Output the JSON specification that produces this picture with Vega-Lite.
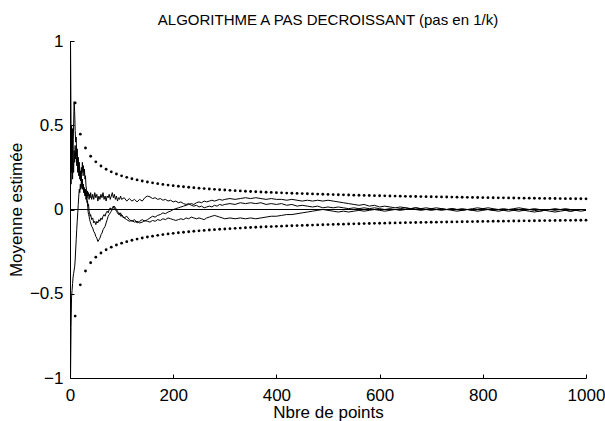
{
"$schema":"https://vega.github.io/schema/vega-lite/v6.json",
"width":516,"height":337,
"autosize":{"type":"none"},
"padding":{"left":70,"top":41,"right":19,"bottom":43},
"background":"white",
"title":{"text":"ALGORITHME A PAS DECROISSANT (pas en 1/k)","font":"Liberation Sans","fontSize":15,"fontWeight":"normal","color":"black","anchor":"middle","frame":"group","baseline":"alphabetic","offset":-8},
"config":{"view":{"stroke":null},"font":"Liberation Sans",
"axis":{"labelFont":"Liberation Sans","labelFontSize":17,"labelColor":"black","titleFont":"Liberation Sans","titleFontSize":17,"titleFontWeight":"normal","titleColor":"black","domainColor":"black","domainWidth":1,"tickColor":"black","tickWidth":1,"tickSize":-4,"grid":false,"labelFlush":false,"labelOverlap":false},
"axisX":{"labelPadding":13,"titlePadding":1},
"axisY":{"labelPadding":11,"titlePadding":4}},
"datasets":{
"U":[{"k":10,"v":0.6325},{"k":20,"v":0.4472},{"k":30,"v":0.3651},{"k":40,"v":0.3162},{"k":50,"v":0.2828},{"k":60,"v":0.2582},{"k":70,"v":0.239},{"k":80,"v":0.2236},{"k":90,"v":0.2108},{"k":100,"v":0.2},{"k":110,"v":0.1907},{"k":120,"v":0.1826},{"k":130,"v":0.1754},{"k":140,"v":0.169},{"k":150,"v":0.1633},{"k":160,"v":0.1581},{"k":170,"v":0.1534},{"k":180,"v":0.1491},{"k":190,"v":0.1451},{"k":200,"v":0.1414},{"k":210,"v":0.138},{"k":220,"v":0.1348},{"k":230,"v":0.1319},{"k":240,"v":0.1291},{"k":250,"v":0.1265},{"k":260,"v":0.124},{"k":270,"v":0.1217},{"k":280,"v":0.1195},{"k":290,"v":0.1174},{"k":300,"v":0.1155},{"k":310,"v":0.1136},{"k":320,"v":0.1118},{"k":330,"v":0.1101},{"k":340,"v":0.1085},{"k":350,"v":0.1069},{"k":360,"v":0.1054},{"k":370,"v":0.104},{"k":380,"v":0.1026},{"k":390,"v":0.1013},{"k":400,"v":0.1},{"k":410,"v":0.0988},{"k":420,"v":0.0976},{"k":430,"v":0.0965},{"k":440,"v":0.0953},{"k":450,"v":0.0943},{"k":460,"v":0.0933},{"k":470,"v":0.0923},{"k":480,"v":0.0913},{"k":490,"v":0.0904},{"k":500,"v":0.0894},{"k":510,"v":0.0886},{"k":520,"v":0.0877},{"k":530,"v":0.0869},{"k":540,"v":0.0861},{"k":550,"v":0.0853},{"k":560,"v":0.0845},{"k":570,"v":0.0838},{"k":580,"v":0.083},{"k":590,"v":0.0823},{"k":600,"v":0.0816},{"k":610,"v":0.081},{"k":620,"v":0.0803},{"k":630,"v":0.0797},{"k":640,"v":0.0791},{"k":650,"v":0.0784},{"k":660,"v":0.0778},{"k":670,"v":0.0773},{"k":680,"v":0.0767},{"k":690,"v":0.0761},{"k":700,"v":0.0756},{"k":710,"v":0.0751},{"k":720,"v":0.0745},{"k":730,"v":0.074},{"k":740,"v":0.0735},{"k":750,"v":0.073},{"k":760,"v":0.0725},{"k":770,"v":0.0721},{"k":780,"v":0.0716},{"k":790,"v":0.0712},{"k":800,"v":0.0707},{"k":810,"v":0.0703},{"k":820,"v":0.0698},{"k":830,"v":0.0694},{"k":840,"v":0.069},{"k":850,"v":0.0686},{"k":860,"v":0.0682},{"k":870,"v":0.0678},{"k":880,"v":0.0674},{"k":890,"v":0.067},{"k":900,"v":0.0667},{"k":910,"v":0.0663},{"k":920,"v":0.0659},{"k":930,"v":0.0656},{"k":940,"v":0.0652},{"k":950,"v":0.0649},{"k":960,"v":0.0645},{"k":970,"v":0.0642},{"k":980,"v":0.0639},{"k":990,"v":0.0636},{"k":1000,"v":0.0632}],
"L":[{"k":10,"v":-0.6325},{"k":20,"v":-0.4472},{"k":30,"v":-0.3651},{"k":40,"v":-0.3162},{"k":50,"v":-0.2828},{"k":60,"v":-0.2582},{"k":70,"v":-0.239},{"k":80,"v":-0.2236},{"k":90,"v":-0.2108},{"k":100,"v":-0.2},{"k":110,"v":-0.1907},{"k":120,"v":-0.1826},{"k":130,"v":-0.1754},{"k":140,"v":-0.169},{"k":150,"v":-0.1633},{"k":160,"v":-0.1581},{"k":170,"v":-0.1534},{"k":180,"v":-0.1491},{"k":190,"v":-0.1451},{"k":200,"v":-0.1414},{"k":210,"v":-0.138},{"k":220,"v":-0.1348},{"k":230,"v":-0.1319},{"k":240,"v":-0.1291},{"k":250,"v":-0.1265},{"k":260,"v":-0.124},{"k":270,"v":-0.1217},{"k":280,"v":-0.1195},{"k":290,"v":-0.1174},{"k":300,"v":-0.1155},{"k":310,"v":-0.1136},{"k":320,"v":-0.1118},{"k":330,"v":-0.1101},{"k":340,"v":-0.1085},{"k":350,"v":-0.1069},{"k":360,"v":-0.1054},{"k":370,"v":-0.104},{"k":380,"v":-0.1026},{"k":390,"v":-0.1013},{"k":400,"v":-0.1},{"k":410,"v":-0.0988},{"k":420,"v":-0.0976},{"k":430,"v":-0.0965},{"k":440,"v":-0.0953},{"k":450,"v":-0.0943},{"k":460,"v":-0.0933},{"k":470,"v":-0.0923},{"k":480,"v":-0.0913},{"k":490,"v":-0.0904},{"k":500,"v":-0.0894},{"k":510,"v":-0.0886},{"k":520,"v":-0.0877},{"k":530,"v":-0.0869},{"k":540,"v":-0.0861},{"k":550,"v":-0.0853},{"k":560,"v":-0.0845},{"k":570,"v":-0.0838},{"k":580,"v":-0.083},{"k":590,"v":-0.0823},{"k":600,"v":-0.0816},{"k":610,"v":-0.081},{"k":620,"v":-0.0803},{"k":630,"v":-0.0797},{"k":640,"v":-0.0791},{"k":650,"v":-0.0784},{"k":660,"v":-0.0778},{"k":670,"v":-0.0773},{"k":680,"v":-0.0767},{"k":690,"v":-0.0761},{"k":700,"v":-0.0756},{"k":710,"v":-0.0751},{"k":720,"v":-0.0745},{"k":730,"v":-0.074},{"k":740,"v":-0.0735},{"k":750,"v":-0.073},{"k":760,"v":-0.0725},{"k":770,"v":-0.0721},{"k":780,"v":-0.0716},{"k":790,"v":-0.0712},{"k":800,"v":-0.0707},{"k":810,"v":-0.0703},{"k":820,"v":-0.0698},{"k":830,"v":-0.0694},{"k":840,"v":-0.069},{"k":850,"v":-0.0686},{"k":860,"v":-0.0682},{"k":870,"v":-0.0678},{"k":880,"v":-0.0674},{"k":890,"v":-0.067},{"k":900,"v":-0.0667},{"k":910,"v":-0.0663},{"k":920,"v":-0.0659},{"k":930,"v":-0.0656},{"k":940,"v":-0.0652},{"k":950,"v":-0.0649},{"k":960,"v":-0.0645},{"k":970,"v":-0.0642},{"k":980,"v":-0.0639},{"k":990,"v":-0.0636},{"k":1000,"v":-0.0632}],
"A":[{"k":1,"v":1},{"k":2,"v":0.5},{"k":3,"v":0.22},{"k":4,"v":0.45},{"k":5,"v":0.18},{"k":6,"v":0.38},{"k":7,"v":0.5},{"k":8,"v":0.64},{"k":9,"v":0.58},{"k":10,"v":0.47},{"k":11,"v":0.4},{"k":12,"v":0.43},{"k":13,"v":0.32},{"k":14,"v":0.36},{"k":15,"v":0.27},{"k":16,"v":0.31},{"k":17,"v":0.24},{"k":18,"v":0.28},{"k":19,"v":0.2},{"k":20,"v":0.23},{"k":21,"v":0.17},{"k":22,"v":0.2},{"k":23,"v":0.15},{"k":24,"v":0.18},{"k":25,"v":0.12},{"k":26,"v":0.15},{"k":27,"v":0.1},{"k":28,"v":0.13},{"k":29,"v":0.09},{"k":30,"v":0.12},{"k":31,"v":0.08},{"k":32,"v":0.1},{"k":33,"v":0.07},{"k":34,"v":0.11},{"k":35,"v":0.08},{"k":36,"v":0.1},{"k":37,"v":0.06},{"k":38,"v":0.09},{"k":39,"v":0.07},{"k":40,"v":0.1},{"k":42,"v":0.06},{"k":44,"v":0.09},{"k":46,"v":0.06},{"k":48,"v":0.1},{"k":50,"v":0.07},{"k":52,"v":0.09},{"k":54,"v":0.05},{"k":56,"v":0.08},{"k":58,"v":0.06},{"k":60,"v":0.09},{"k":62,"v":0.07},{"k":64,"v":0.1},{"k":66,"v":0.06},{"k":68,"v":0.08},{"k":70,"v":0.05},{"k":72,"v":0.08},{"k":74,"v":0.07},{"k":76,"v":0.09},{"k":78,"v":0.06},{"k":80,"v":0.08},{"k":82,"v":0.1},{"k":84,"v":0.07},{"k":86,"v":0.09},{"k":88,"v":0.06},{"k":90,"v":0.08},{"k":92,"v":0.05},{"k":94,"v":0.07},{"k":96,"v":0.06},{"k":98,"v":0.08},{"k":100,"v":0.06},{"k":105,"v":0.07},{"k":110,"v":0.05},{"k":115,"v":0.065},{"k":120,"v":0.05},{"k":125,"v":0.06},{"k":130,"v":0.045},{"k":135,"v":0.06},{"k":140,"v":0.05},{"k":145,"v":0.07},{"k":150,"v":0.08},{"k":155,"v":0.075},{"k":160,"v":0.065},{"k":165,"v":0.07},{"k":170,"v":0.06},{"k":175,"v":0.065},{"k":180,"v":0.055},{"k":185,"v":0.06},{"k":190,"v":0.05},{"k":195,"v":0.055},{"k":200,"v":0.045},{"k":205,"v":0.05},{"k":210,"v":0.04},{"k":215,"v":0.045},{"k":220,"v":0.035},{"k":225,"v":0.03},{"k":230,"v":0.035},{"k":235,"v":0.025},{"k":240,"v":0.02},{"k":245,"v":0.025},{"k":250,"v":0.015},{"k":255,"v":0.02},{"k":260,"v":0.01},{"k":265,"v":0.015},{"k":270,"v":0.02},{"k":275,"v":0.015},{"k":280,"v":0.025},{"k":285,"v":0.02},{"k":290,"v":0.03},{"k":295,"v":0.025},{"k":300,"v":0.03},{"k":310,"v":0.035},{"k":320,"v":0.03},{"k":330,"v":0.04},{"k":340,"v":0.035},{"k":350,"v":0.04},{"k":360,"v":0.035},{"k":370,"v":0.04},{"k":380,"v":0.03},{"k":390,"v":0.035},{"k":400,"v":0.03},{"k":410,"v":0.035},{"k":420,"v":0.025},{"k":430,"v":0.03},{"k":440,"v":0.02},{"k":450,"v":0.025},{"k":460,"v":0.02},{"k":470,"v":0.015},{"k":480,"v":0.02},{"k":490,"v":0.01},{"k":500,"v":0.015},{"k":510,"v":0.01},{"k":520,"v":0.015},{"k":530,"v":0.01},{"k":540,"v":0.005},{"k":550,"v":0.01},{"k":560,"v":0.005},{"k":570,"v":0.01},{"k":580,"v":0.005},{"k":590,"v":0.01},{"k":600,"v":0.005},{"k":610,"v":0},{"k":620,"v":0.005},{"k":630,"v":0},{"k":640,"v":0.005},{"k":650,"v":0.01},{"k":660,"v":0.005},{"k":670,"v":0.01},{"k":680,"v":0.005},{"k":690,"v":0},{"k":700,"v":0.005},{"k":710,"v":0},{"k":720,"v":-0.005},{"k":730,"v":0},{"k":740,"v":0.005},{"k":750,"v":0},{"k":760,"v":-0.005},{"k":770,"v":0},{"k":780,"v":-0.005},{"k":790,"v":0},{"k":800,"v":0.005},{"k":810,"v":0},{"k":820,"v":-0.005},{"k":830,"v":0},{"k":840,"v":-0.005},{"k":850,"v":-0.01},{"k":860,"v":-0.005},{"k":870,"v":0},{"k":880,"v":-0.005},{"k":890,"v":0},{"k":900,"v":-0.005},{"k":910,"v":-0.01},{"k":920,"v":-0.005},{"k":930,"v":0},{"k":940,"v":-0.005},{"k":950,"v":0},{"k":960,"v":-0.005},{"k":970,"v":-0.01},{"k":980,"v":-0.005},{"k":990,"v":0},{"k":1000,"v":-0.005}],
"B":[{"k":1,"v":-1},{"k":2,"v":-0.7},{"k":3,"v":-0.52},{"k":4,"v":-0.48},{"k":5,"v":-0.44},{"k":6,"v":-0.4},{"k":7,"v":-0.38},{"k":8,"v":-0.36},{"k":9,"v":-0.34},{"k":10,"v":-0.3},{"k":11,"v":-0.24},{"k":12,"v":-0.18},{"k":13,"v":-0.12},{"k":14,"v":-0.07},{"k":15,"v":-0.02},{"k":16,"v":0.03},{"k":17,"v":0.08},{"k":18,"v":0.12},{"k":19,"v":0.1},{"k":20,"v":0.15},{"k":21,"v":0.12},{"k":22,"v":0.17},{"k":23,"v":0.13},{"k":24,"v":0.16},{"k":25,"v":0.12},{"k":26,"v":0.14},{"k":27,"v":0.1},{"k":28,"v":0.12},{"k":29,"v":0.08},{"k":30,"v":0.1},{"k":31,"v":0.06},{"k":32,"v":0.08},{"k":33,"v":0.04},{"k":34,"v":0.05},{"k":35,"v":0.02},{"k":36,"v":0.03},{"k":37,"v":-0.01},{"k":38,"v":-0.02},{"k":39,"v":-0.04},{"k":40,"v":-0.03},{"k":42,"v":-0.06},{"k":44,"v":-0.05},{"k":46,"v":-0.08},{"k":48,"v":-0.07},{"k":50,"v":-0.09},{"k":52,"v":-0.07},{"k":54,"v":-0.08},{"k":56,"v":-0.06},{"k":58,"v":-0.07},{"k":60,"v":-0.05},{"k":62,"v":-0.06},{"k":64,"v":-0.04},{"k":66,"v":-0.03},{"k":68,"v":-0.04},{"k":70,"v":-0.02},{"k":72,"v":-0.01},{"k":74,"v":-0.02},{"k":76,"v":0},{"k":78,"v":0.01},{"k":80,"v":0},{"k":82,"v":0.01},{"k":84,"v":0.02},{"k":86,"v":0.01},{"k":88,"v":0},{"k":90,"v":-0.01},{"k":92,"v":-0.02},{"k":94,"v":-0.03},{"k":96,"v":-0.02},{"k":98,"v":-0.04},{"k":100,"v":-0.03},{"k":105,"v":-0.05},{"k":110,"v":-0.04},{"k":115,"v":-0.06},{"k":120,"v":-0.07},{"k":125,"v":-0.06},{"k":130,"v":-0.08},{"k":135,"v":-0.07},{"k":140,"v":-0.06},{"k":145,"v":-0.07},{"k":150,"v":-0.06},{"k":155,"v":-0.05},{"k":160,"v":-0.04},{"k":165,"v":-0.045},{"k":170,"v":-0.035},{"k":175,"v":-0.03},{"k":180,"v":-0.02},{"k":185,"v":-0.025},{"k":190,"v":-0.015},{"k":195,"v":-0.01},{"k":200,"v":0},{"k":205,"v":0.005},{"k":210,"v":0.01},{"k":215,"v":0.015},{"k":220,"v":0.02},{"k":225,"v":0.025},{"k":230,"v":0.03},{"k":235,"v":0.035},{"k":240,"v":0.03},{"k":245,"v":0.04},{"k":250,"v":0.045},{"k":255,"v":0.04},{"k":260,"v":0.05},{"k":265,"v":0.045},{"k":270,"v":0.05},{"k":275,"v":0.055},{"k":280,"v":0.05},{"k":285,"v":0.055},{"k":290,"v":0.06},{"k":295,"v":0.055},{"k":300,"v":0.06},{"k":310,"v":0.065},{"k":320,"v":0.06},{"k":330,"v":0.065},{"k":340,"v":0.07},{"k":350,"v":0.065},{"k":360,"v":0.07},{"k":370,"v":0.065},{"k":380,"v":0.06},{"k":390,"v":0.065},{"k":400,"v":0.06},{"k":410,"v":0.06},{"k":420,"v":0.055},{"k":430,"v":0.06},{"k":440,"v":0.055},{"k":450,"v":0.05},{"k":460,"v":0.055},{"k":470,"v":0.05},{"k":480,"v":0.055},{"k":490,"v":0.05},{"k":500,"v":0.055},{"k":510,"v":0.05},{"k":520,"v":0.045},{"k":530,"v":0.04},{"k":540,"v":0.035},{"k":550,"v":0.03},{"k":560,"v":0.025},{"k":570,"v":0.03},{"k":580,"v":0.02},{"k":590,"v":0.025},{"k":600,"v":0.015},{"k":610,"v":0.02},{"k":620,"v":0.015},{"k":630,"v":0.01},{"k":640,"v":0.015},{"k":650,"v":0.01},{"k":660,"v":0.005},{"k":670,"v":0.01},{"k":680,"v":0.005},{"k":690,"v":0.01},{"k":700,"v":0.005},{"k":710,"v":0.01},{"k":720,"v":0.005},{"k":730,"v":0},{"k":740,"v":0.005},{"k":750,"v":0},{"k":760,"v":0.005},{"k":770,"v":0},{"k":780,"v":0.005},{"k":790,"v":0.01},{"k":800,"v":0.005},{"k":810,"v":0.01},{"k":820,"v":0.005},{"k":830,"v":0},{"k":840,"v":0.005},{"k":850,"v":0},{"k":860,"v":0.005},{"k":870,"v":0.01},{"k":880,"v":0.005},{"k":890,"v":0},{"k":900,"v":0.005},{"k":910,"v":0},{"k":920,"v":-0.005},{"k":930,"v":0},{"k":940,"v":0.005},{"k":950,"v":0},{"k":960,"v":0.005},{"k":970,"v":0},{"k":980,"v":-0.005},{"k":990,"v":0},{"k":1000,"v":0}],
"C":[{"k":1,"v":0.35},{"k":2,"v":0.15},{"k":3,"v":0.5},{"k":4,"v":0.25},{"k":5,"v":0.48},{"k":6,"v":0.3},{"k":7,"v":0.22},{"k":8,"v":0.35},{"k":9,"v":0.28},{"k":10,"v":0.38},{"k":11,"v":0.3},{"k":12,"v":0.34},{"k":13,"v":0.26},{"k":14,"v":0.3},{"k":15,"v":0.22},{"k":16,"v":0.27},{"k":17,"v":0.2},{"k":18,"v":0.24},{"k":19,"v":0.18},{"k":20,"v":0.22},{"k":21,"v":0.17},{"k":22,"v":0.25},{"k":23,"v":0.2},{"k":24,"v":0.28},{"k":25,"v":0.22},{"k":26,"v":0.26},{"k":27,"v":0.2},{"k":28,"v":0.24},{"k":29,"v":0.18},{"k":30,"v":0.2},{"k":31,"v":0.14},{"k":32,"v":0.12},{"k":33,"v":0.06},{"k":34,"v":0.04},{"k":35,"v":-0.01},{"k":36,"v":-0.03},{"k":37,"v":-0.04},{"k":38,"v":-0.06},{"k":39,"v":-0.07},{"k":40,"v":-0.08},{"k":42,"v":-0.1},{"k":44,"v":-0.11},{"k":46,"v":-0.13},{"k":48,"v":-0.14},{"k":50,"v":-0.16},{"k":52,"v":-0.17},{"k":54,"v":-0.19},{"k":56,"v":-0.18},{"k":58,"v":-0.17},{"k":60,"v":-0.15},{"k":62,"v":-0.14},{"k":64,"v":-0.12},{"k":66,"v":-0.11},{"k":68,"v":-0.1},{"k":70,"v":-0.08},{"k":72,"v":-0.06},{"k":74,"v":-0.04},{"k":76,"v":-0.03},{"k":78,"v":-0.02},{"k":80,"v":-0.01},{"k":82,"v":0},{"k":84,"v":0.01},{"k":86,"v":0.02},{"k":88,"v":0.01},{"k":90,"v":0},{"k":92,"v":-0.01},{"k":94,"v":-0.02},{"k":96,"v":-0.03},{"k":98,"v":-0.02},{"k":100,"v":-0.04},{"k":105,"v":-0.05},{"k":110,"v":-0.06},{"k":115,"v":-0.07},{"k":120,"v":-0.065},{"k":125,"v":-0.075},{"k":130,"v":-0.07},{"k":135,"v":-0.08},{"k":140,"v":-0.075},{"k":145,"v":-0.065},{"k":150,"v":-0.07},{"k":155,"v":-0.075},{"k":160,"v":-0.065},{"k":165,"v":-0.07},{"k":170,"v":-0.06},{"k":175,"v":-0.065},{"k":180,"v":-0.055},{"k":185,"v":-0.06},{"k":190,"v":-0.05},{"k":195,"v":-0.055},{"k":200,"v":-0.06},{"k":205,"v":-0.065},{"k":210,"v":-0.06},{"k":215,"v":-0.055},{"k":220,"v":-0.06},{"k":225,"v":-0.05},{"k":230,"v":-0.055},{"k":235,"v":-0.045},{"k":240,"v":-0.05},{"k":245,"v":-0.055},{"k":250,"v":-0.05},{"k":255,"v":-0.055},{"k":260,"v":-0.06},{"k":265,"v":-0.05},{"k":270,"v":-0.045},{"k":275,"v":-0.04},{"k":280,"v":-0.035},{"k":285,"v":-0.04},{"k":290,"v":-0.045},{"k":295,"v":-0.05},{"k":300,"v":-0.055},{"k":310,"v":-0.05},{"k":320,"v":-0.055},{"k":330,"v":-0.05},{"k":340,"v":-0.055},{"k":350,"v":-0.05},{"k":360,"v":-0.055},{"k":370,"v":-0.05},{"k":380,"v":-0.045},{"k":390,"v":-0.04},{"k":400,"v":-0.04},{"k":410,"v":-0.035},{"k":420,"v":-0.03},{"k":430,"v":-0.03},{"k":440,"v":-0.025},{"k":450,"v":-0.02},{"k":460,"v":-0.015},{"k":470,"v":-0.01},{"k":480,"v":-0.005},{"k":490,"v":0},{"k":500,"v":-0.005},{"k":510,"v":-0.01},{"k":520,"v":-0.015},{"k":530,"v":-0.01},{"k":540,"v":-0.015},{"k":550,"v":-0.01},{"k":560,"v":-0.005},{"k":570,"v":-0.01},{"k":580,"v":-0.005},{"k":590,"v":0},{"k":600,"v":-0.005},{"k":610,"v":-0.01},{"k":620,"v":-0.005},{"k":630,"v":0},{"k":640,"v":-0.005},{"k":650,"v":0},{"k":660,"v":0.005},{"k":670,"v":0},{"k":680,"v":-0.005},{"k":690,"v":0},{"k":700,"v":-0.005},{"k":710,"v":0},{"k":720,"v":0.005},{"k":730,"v":0},{"k":740,"v":-0.005},{"k":750,"v":-0.01},{"k":760,"v":-0.005},{"k":770,"v":0},{"k":780,"v":-0.005},{"k":790,"v":-0.01},{"k":800,"v":-0.005},{"k":810,"v":0},{"k":820,"v":-0.005},{"k":830,"v":-0.01},{"k":840,"v":-0.005},{"k":850,"v":0},{"k":860,"v":-0.005},{"k":870,"v":-0.01},{"k":880,"v":-0.005},{"k":890,"v":-0.01},{"k":900,"v":-0.015},{"k":910,"v":-0.01},{"k":920,"v":-0.005},{"k":930,"v":-0.01},{"k":940,"v":-0.015},{"k":950,"v":-0.01},{"k":960,"v":-0.005},{"k":970,"v":-0.01},{"k":980,"v":-0.005},{"k":990,"v":-0.01},{"k":1000,"v":-0.005}]
},
"layer":[
{"data":{"name":"U"},"mark":{"type":"point","filled":true,"color":"black","size":8,"opacity":1,"shape":"circle"},
 "encoding":{"x":{"field":"k","type":"quantitative","title":"Nbre de points","scale":{"domain":[0,1000],"nice":false,"zero":false},"axis":{"values":[0,200,400,600,800,1000],"format":"d"}},
 "y":{"field":"v","type":"quantitative","title":"Moyenne estimée","scale":{"domain":[-1,1],"nice":false},"axis":{"values":[-1,-0.5,0,0.5,1],"format":".1~f"}}}},
{"data":{"name":"L"},"mark":{"type":"point","filled":true,"color":"black","size":8,"opacity":1,"shape":"circle"},
 "encoding":{"x":{"field":"k","type":"quantitative","title":"Nbre de points"},"y":{"field":"v","type":"quantitative","title":"Moyenne estimée"}}},
{"data":{"values":[{}]},"mark":{"type":"rule","color":"black","strokeWidth":1},
 "encoding":{"y":{"datum":0,"type":"quantitative","title":"Moyenne estimée"}}},
{"data":{"name":"A"},"mark":{"type":"line","color":"black","strokeWidth":1},
 "encoding":{"x":{"field":"k","type":"quantitative","title":"Nbre de points"},"y":{"field":"v","type":"quantitative","title":"Moyenne estimée"}}},
{"data":{"name":"B"},"mark":{"type":"line","color":"black","strokeWidth":1},
 "encoding":{"x":{"field":"k","type":"quantitative","title":"Nbre de points"},"y":{"field":"v","type":"quantitative","title":"Moyenne estimée"}}},
{"data":{"name":"C"},"mark":{"type":"line","color":"black","strokeWidth":1},
 "encoding":{"x":{"field":"k","type":"quantitative","title":"Nbre de points"},"y":{"field":"v","type":"quantitative","title":"Moyenne estimée"}}}
]
}
